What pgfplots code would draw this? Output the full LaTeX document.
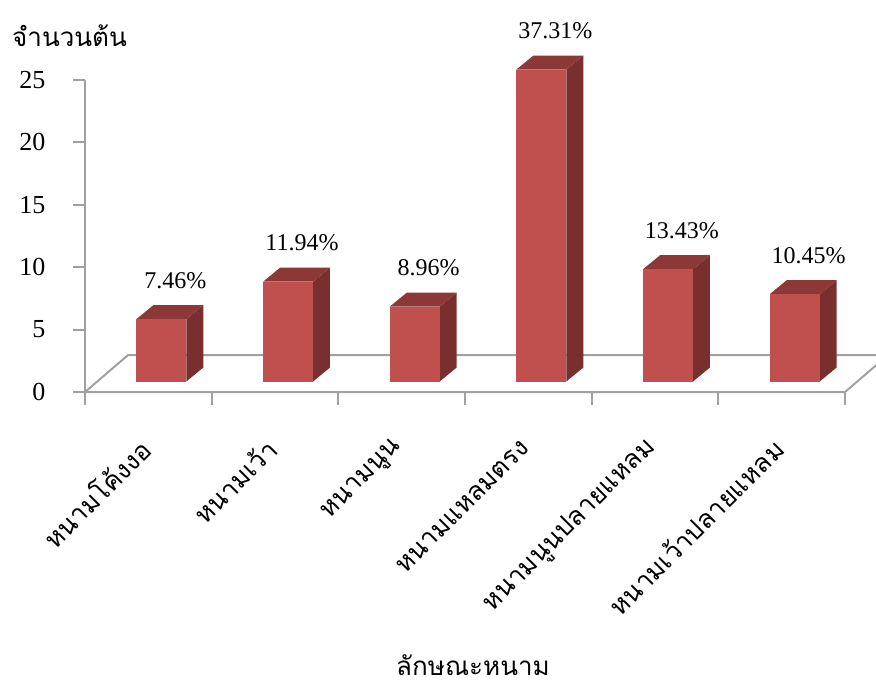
\documentclass[border=0pt]{standalone}
\usepackage{pgfplots}
\pgfplotsset{compat=1.18}
\usepackage{pgfplotstable}
\usepackage{fontspec}
\setmainfont{Liberation Serif}
\newfontfamily\thaifont[Script=Thai]{Loma}

\definecolor{barfront}{HTML}{C0504D}
\definecolor{bartop}{HTML}{8C3836}
\definecolor{barside}{HTML}{782F2E}
\definecolor{axgray}{RGB}{160,160,160}

% leaf shapes: number of trees and share of all 67 trees
\pgfplotstableread{
idx count pct
0 5 7.46
1 8 11.94
2 6 8.96
3 25 37.31
4 9 13.43
5 7 10.45
}\leafdata

% pseudo-3D geometry, in axis units
\def\barbase{0.84}  % front face sits above the floor's front edge
\def\baroff{0.103}  % shift of the front face to the right of the category
\def\barhw{0.197}   % half width of a bar
\def\depx{0.134}    % depth of a bar, x part
\def\depy{1.12}     % depth of a bar, y part
\pgfmathsetmacro\flxa{-0.5+0.34}
\pgfmathsetmacro\flxb{5.5+0.34}
\def\fly{2.96}

\tikzset{pctlabel/.style={font=\fontsize{24}{28}\selectfont, anchor=base, yshift=17pt, inner sep=0pt}}

\begin{document}
\begin{tikzpicture}
\begin{axis}[
  at={(85pt,294pt)}, anchor=south west,
  scale only axis, width=760pt, height=312pt,
  xmin=-0.5, xmax=5.5, ymin=0, ymax=25,
  clip=false, axis on top,
  axis lines*=left,
  axis line style={draw=axgray, line width=2pt},
  tick style={draw=axgray, line width=2pt},
  tick align=outside,
  ytick={0,5,...,25},
  major tick length=12pt,
  minor tick length=13pt,
  xtick={0,...,5},
  minor xtick={-0.5,0.5,...,5.5},
  major x tick style={draw=none},
  xticklabels={หนามโค้งงอ,หนามเว้า,หนามนูน,หนามแหลมตรง,หนามนูนปลายแหลม,หนามเว้าปลายแหลม},
  x tick label style={font=\thaifont\fontsize{26}{30}\selectfont, xshift=-3pt, yshift=-40pt, rotate=45, anchor=east, inner sep=0pt},
  y tick label style={font=\fontsize{26}{30}\selectfont, xshift=-24pt},
  /pgf/number format/assume math mode=true,
]
% floor of the chart
\addplot[fill=white, draw=axgray, line width=2pt] coordinates {(-0.5,0) (\flxa,\fly) (\flxb,\fly) (5.5,0)} -- cycle;

% each bar: side face, top face, front face and its percentage
\pgfplotsinvokeforeach{0,...,5}{%
  \pgfplotstablegetelem{#1}{count}\of\leafdata
  \let\barh\pgfplotsretval
  \pgfplotstablegetelem{#1}{pct}\of\leafdata
  \let\barpct\pgfplotsretval
  \pgfmathsetmacro\xl{#1+\baroff-\barhw}
  \pgfmathsetmacro\xr{#1+\baroff+\barhw}
  \pgfmathsetmacro\xlb{\xl+\depx}
  \pgfmathsetmacro\xrb{\xr+\depx}
  \pgfmathsetmacro\yb{\barbase}
  \pgfmathsetmacro\yt{\barbase+\barh}
  \pgfmathsetmacro\ybb{\barbase+\depy}
  \pgfmathsetmacro\ytb{\barbase+\barh+\depy}
  \pgfmathsetmacro\xlab{#1+\baroff+0.11}
  \edef\drawbar{%
    \noexpand\addplot[fill=barside, draw=none] coordinates {(\xr,\yb) (\xrb,\ybb) (\xrb,\ytb) (\xr,\yt)};
    \noexpand\addplot[fill=bartop, draw=none] coordinates {(\xl,\yt) (\xr,\yt) (\xrb,\ytb) (\xlb,\ytb)};
    \noexpand\addplot[fill=barfront, draw=none] coordinates {(\xl,\yb) (\xr,\yb) (\xr,\yt) (\xl,\yt)};
    \noexpand\node[pctlabel] at (axis cs:\xlab,\ytb) {\barpct\noexpand\%};
  }%
  \drawbar
}
\end{axis}
\node[font=\thaifont\fontsize{26}{30}\selectfont, anchor=base west, inner sep=0pt] at (12pt,639pt) {จำนวนต้น};
\node[font=\thaifont\fontsize{26}{30}\selectfont, anchor=base, inner sep=0pt] at (473pt,11pt) {ลักษณะหนาม};
\pgfresetboundingbox
\path (0,0) rectangle (876pt,686pt);
\end{tikzpicture}
\end{document}
